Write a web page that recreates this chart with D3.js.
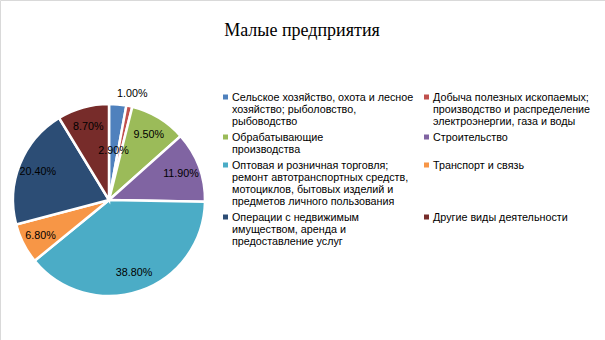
<!DOCTYPE html>
<html><head><meta charset="utf-8">
<script src="https://cdn.jsdelivr.net/npm/d3@7"></script>
<style>html,body{margin:0;padding:0;background:#fff;}</style>
</head><body>
<svg id="c" width="605" height="340"></svg>
<script>
const title = "Малые предприятия";
const categories = [
  "Сельское хозяйство, охота и лесное\nхозяйство; рыболовство,\nрыбоводство",
  "Добыча полезных ископаемых;\nпроизводство и распределение\nэлектроэнергии, газа и воды",
  "Обрабатывающие\nпроизводства",
  "Строительство",
  "Оптовая и розничная торговля;\nремонт автотранспортных средств,\nмотоциклов, бытовых изделий и\nпредметов личного пользования",
  "Транспорт и связь",
  "Операции с недвижимым\nимуществом, аренда и\nпредоставление услуг",
  "Другие виды деятельности"
];
const values = [2.9, 1.0, 9.5, 11.9, 38.8, 6.8, 20.4, 8.7];
const colors = ["#4F81BD","#C0504D","#9BBB59","#8064A2","#4BACC6","#F79646","#2C4D75","#772C2A"];

const svg = d3.select("#c");
svg.append("line").attr("x1",0.5).attr("y1",0.5).attr("x2",605).attr("y2",0.5).attr("stroke","#d9d9d9");
svg.append("line").attr("x1",0.5).attr("y1",0.5).attr("x2",0.5).attr("y2",340).attr("stroke","#d9d9d9");

svg.append("text").attr("x",302).attr("y",36).attr("text-anchor","middle")
  .attr("font-family","Liberation Serif, serif").attr("font-size",18).attr("fill","#000").text(title);

const cx = 109, cy = 200, R = 96;
const pie = d3.pie().sort(null).value(d => d);
const arcs = pie(values);
const arc = d3.arc().innerRadius(0).outerRadius(R);
const g = svg.append("g").attr("transform", `translate(${cx},${cy})`);
g.selectAll("path").data(arcs).enter().append("path")
  .attr("d", arc).attr("fill", (d,i) => colors[i])
  .attr("stroke","#fff").attr("stroke-width",2.5).attr("stroke-linejoin","miter");

const labelR = (d,i) => {
  if (i === 0) return R*0.52;
  if (i === 1) return R*1.14;
  return R*0.8;
};
g.selectAll("text.lbl").data(arcs).enter().append("text")
  .attr("class","lbl")
  .attr("transform",(d,i) => {
    const a = (d.startAngle + d.endAngle)/2, r = labelR(d,i);
    return `translate(${r*Math.sin(a)},${-r*Math.cos(a)})`;
  })
  .attr("text-anchor","middle").attr("dy","0.35em")
  .attr("font-family","Liberation Sans, Arial, sans-serif").attr("font-size",10.75).attr("fill","#000")
  .text(d => d.value.toFixed(2) + "%");

// legend
const colX = [223, 424], lineH = 12, rowGap = 4;
const lg = svg.append("g").attr("font-family","Liberation Sans, Arial, sans-serif").attr("font-size",10.75).attr("fill","#000");
let y = 97;
for (let r = 0; r < categories.length/2; r++) {
  let maxLines = 0;
  for (let c = 0; c < 2; c++) {
    const i = r*2 + c;
    const lines = categories[i].split("\n");
    maxLines = Math.max(maxLines, lines.length);
    lg.append("rect").attr("x", colX[c]).attr("y", y-2.5).attr("width",5).attr("height",5).attr("fill",colors[i]);
    lines.forEach((l,k) => {
      lg.append("text").attr("x", colX[c]+9).attr("y", y + k*lineH).attr("dy","0.35em").text(l);
    });
  }
  y += maxLines*lineH + rowGap;
}
</script>
</body></html>
